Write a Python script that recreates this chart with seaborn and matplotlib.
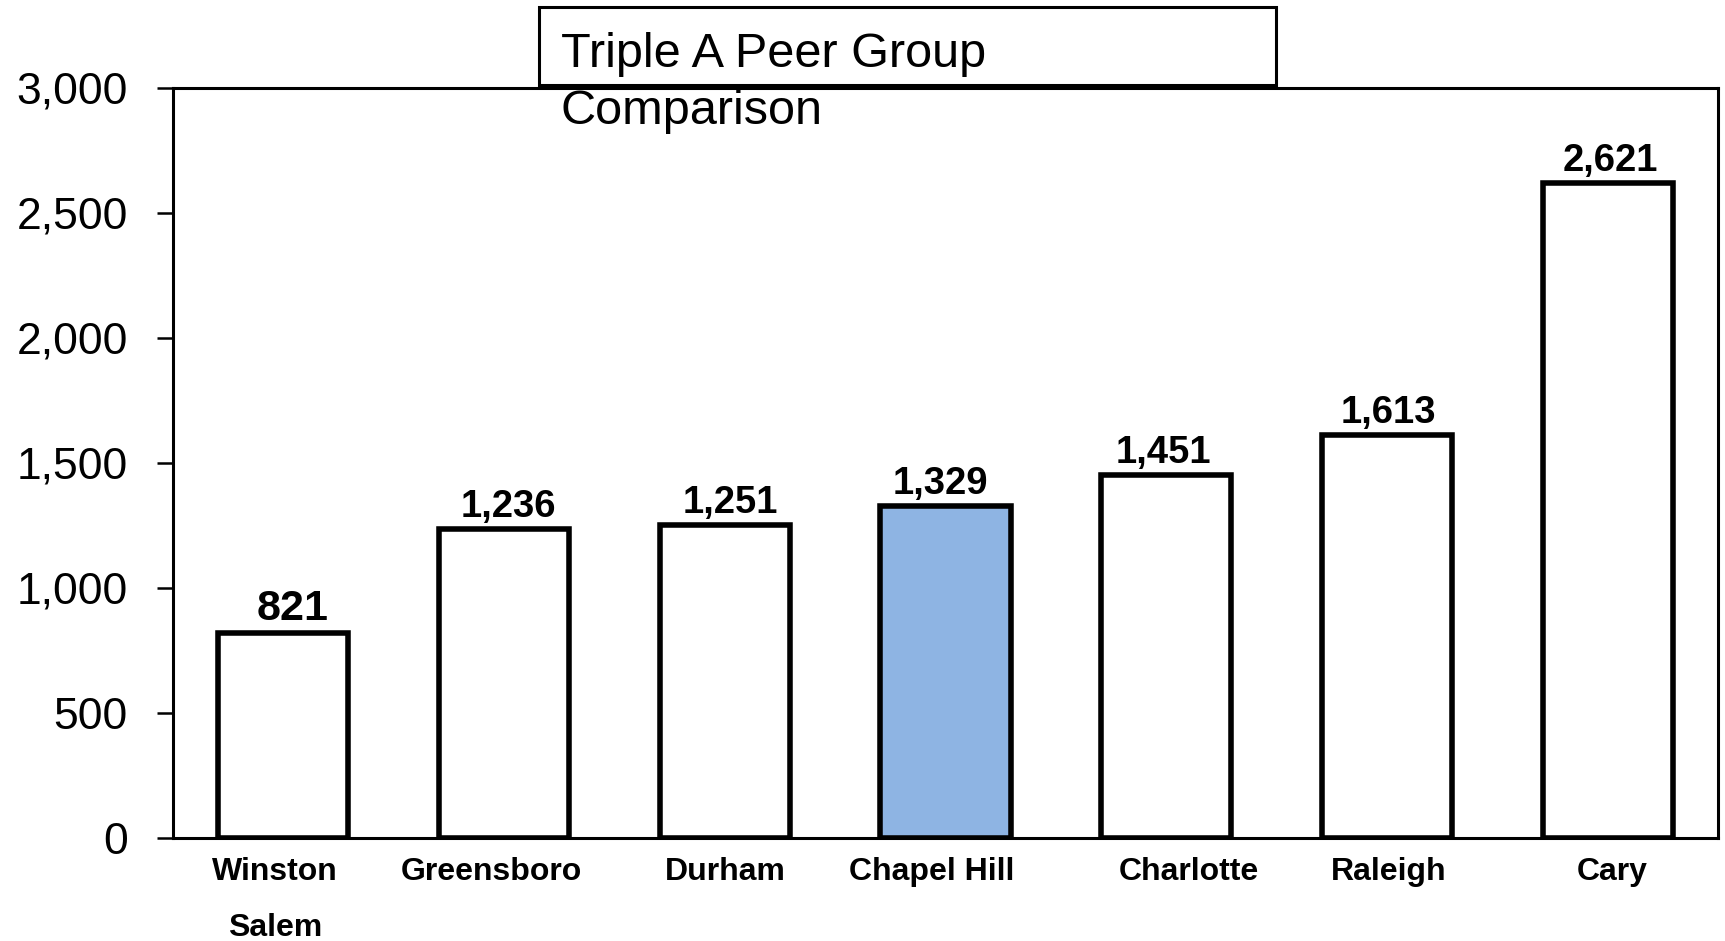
import matplotlib
matplotlib.use("Agg")
import matplotlib.pyplot as plt
from matplotlib.patches import Rectangle
from matplotlib.ticker import FuncFormatter
from matplotlib.transforms import ScaledTranslation
import seaborn as sns

# Peer group values
cities = ["Winston\nSalem", "Greensboro", "Durham", "Chapel Hill",
          "Charlotte", "Raleigh", "Cary"]
values = [821, 1236, 1251, 1329, 1451, 1613, 2621]
bar_colors = ["white", "white", "white", "#8EB4E3", "white", "white", "white"]
value_label_sizes = [31, 27.5, 27.5, 27.5, 27.5, 27.5, 27.5]
y_ticks = [0, 500, 1000, 1500, 2000, 2500, 3000]
title_text = "Triple A Peer Group\nComparison"

# Horizontal nudges (points) for category and value labels
category_label_nudge = [-6, -9, 0, -10, 16, 1, 3]
value_label_nudge = [7, 3, 4, -4, -2, 1, 2]

sns.set_style("white")
plt.rcParams["font.family"] = ["Liberation Sans", "DejaVu Sans"]
plt.rcParams["text.color"] = "black"
plt.rcParams["xtick.color"] = "black"
plt.rcParams["ytick.color"] = "black"
plt.rcParams["axes.labelcolor"] = "black"

fig = plt.figure(figsize=(17.25, 9.41), dpi=100)
ax = fig.add_axes([0.1003, 0.1095, 0.8957, 0.797])

sns.barplot(x=cities, y=values, hue=cities, palette=bar_colors,
            edgecolor="black", linewidth=4, width=0.59,
            legend=False, ax=ax, saturation=1)

ax.set_xlim(-0.5, len(cities) - 0.5)
ax.set_ylim(0, 3000)
ax.set_yticks(y_ticks)
ax.yaxis.set_major_formatter(FuncFormatter(lambda v, p: f"{v:,.0f}"))
ax.tick_params(axis="y", which="major", left=True, length=11.5, width=1.8,
               color="black", labelcolor="black", labelsize=32, pad=21)
ax.tick_params(axis="x", bottom=False, pad=10, labelcolor="black")
for lbl, dx in zip(ax.get_xticklabels(), category_label_nudge):
    lbl.set_fontsize(23)
    lbl.set_fontweight("bold")
    lbl.set_linespacing(2.15)
    lbl.set_verticalalignment("top")
    lbl.set_transform(lbl.get_transform()
                      + ScaledTranslation(dx / 72, 0, fig.dpi_scale_trans))

for side in ["left", "right", "top", "bottom"]:
    ax.spines[side].set_visible(True)
    ax.spines[side].set_color("black")
    ax.spines[side].set_linewidth(2.2)

ax.set_xlabel("")
ax.set_ylabel("")

# Value labels above each bar
for i, (v, fs, dx) in enumerate(zip(values, value_label_sizes, value_label_nudge)):
    ax.annotate(f"{v:,}", xy=(i, v), xytext=(dx, 3), textcoords="offset points",
                ha="center", va="bottom", fontsize=fs, fontweight="bold",
                color="black")

# Title box
fig.patches.append(Rectangle((0.3125, 0.9097), 0.4272, 0.0829,
                             transform=fig.transFigure, fill=True,
                             facecolor="white", edgecolor="black",
                             linewidth=2.2, zorder=5))
fig.text(0.3252, 0.966, title_text, ha="left", va="top", fontsize=35,
         color="black", linespacing=1.35, zorder=6)

fig.savefig("out.png", dpi=100)
